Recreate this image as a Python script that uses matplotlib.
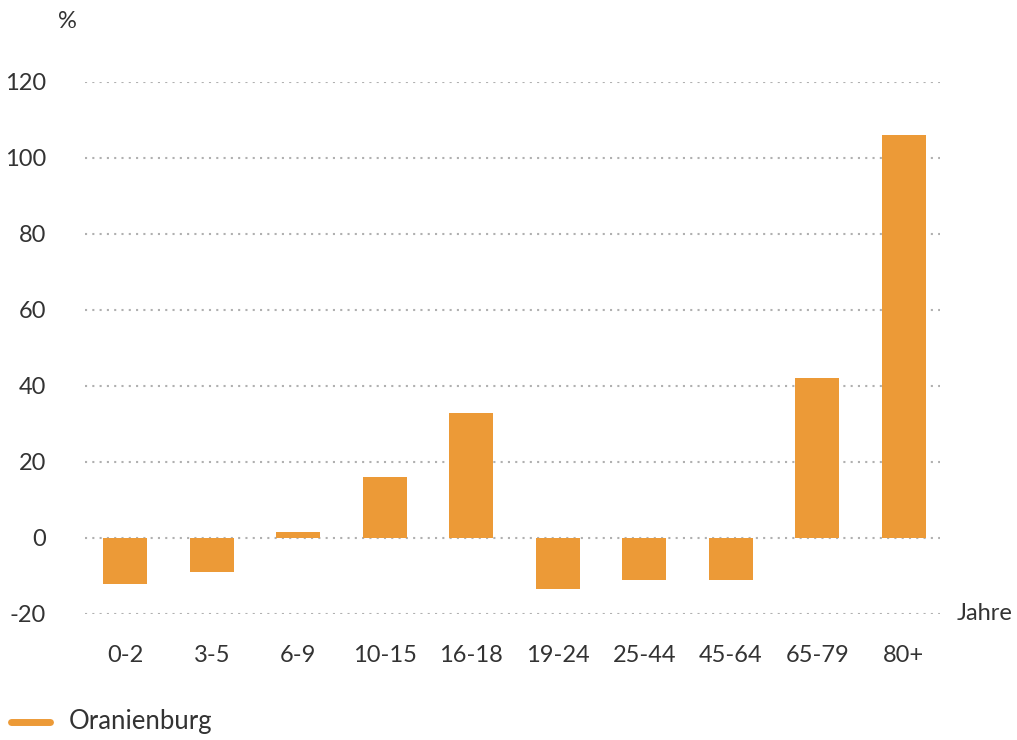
import matplotlib

matplotlib.use("Agg")
import matplotlib.pyplot as plt
from matplotlib.lines import Line2D

# Change in population by age group, Oranienburg (%)
age_groups = ["0-2", "3-5", "6-9", "10-15", "16-18", "19-24", "25-44", "45-64", "65-79", "80+"]
change_pct = [-12, -9, 1.5, 16, 33, -13.5, -11, -11, 42, 106]
y_ticks = [-20, 0, 20, 40, 60, 80, 100, 120]

BAR_COLOR = "#EC9A37"
TEXT_COLOR = "#333333"
GRID_COLOR = "#b0b0b0"
FS = 17

plt.rcParams["font.family"] = ["Lato", "DejaVu Sans"]
plt.rcParams["axes.unicode_minus"] = False

fig = plt.figure(figsize=(10.17, 7.40), dpi=100)
ax = fig.add_axes([85 / 1017, 1 - 614 / 740, 855 / 1017, 532 / 740])

x = list(range(len(age_groups)))
ax.bar(x, change_pct, width=0.51, color=BAR_COLOR, zorder=2)

ax.set_ylim(-20, 120)
ax.set_xlim(-0.465, 9.42)
ax.set_yticks(y_ticks)
ax.set_xticks(x, age_groups)

for t in y_ticks:
    ax.axhline(t, color=GRID_COLOR, linewidth=1.5, linestyle=(0, (1, 2.5)), zorder=1)

for s in ax.spines.values():
    s.set_visible(False)
ax.tick_params(axis="both", length=0, labelsize=FS, colors=TEXT_COLOR)
ax.tick_params(axis="y", pad=28)
ax.tick_params(axis="x", pad=22)

fig.text(67 / 1017, 1 - 22 / 740, "%", fontsize=FS, color=TEXT_COLOR,
         ha="center", va="center")
fig.text(957 / 1017, 1 - 613 / 740, "Jahre", fontsize=FS, color=TEXT_COLOR,
         ha="left", va="center")

# Legend drawn by hand at the bottom left
fig.add_artist(Line2D([11 / 1017, 50 / 1017], [1 - 722 / 740, 1 - 722 / 740],
                      color=BAR_COLOR, linewidth=5, solid_capstyle="round"))
fig.text(69 / 1017, 1 - 722 / 740, "Oranienburg", fontsize=18.5, color=TEXT_COLOR,
         ha="left", va="center")

fig.savefig("out.png", dpi=100)
